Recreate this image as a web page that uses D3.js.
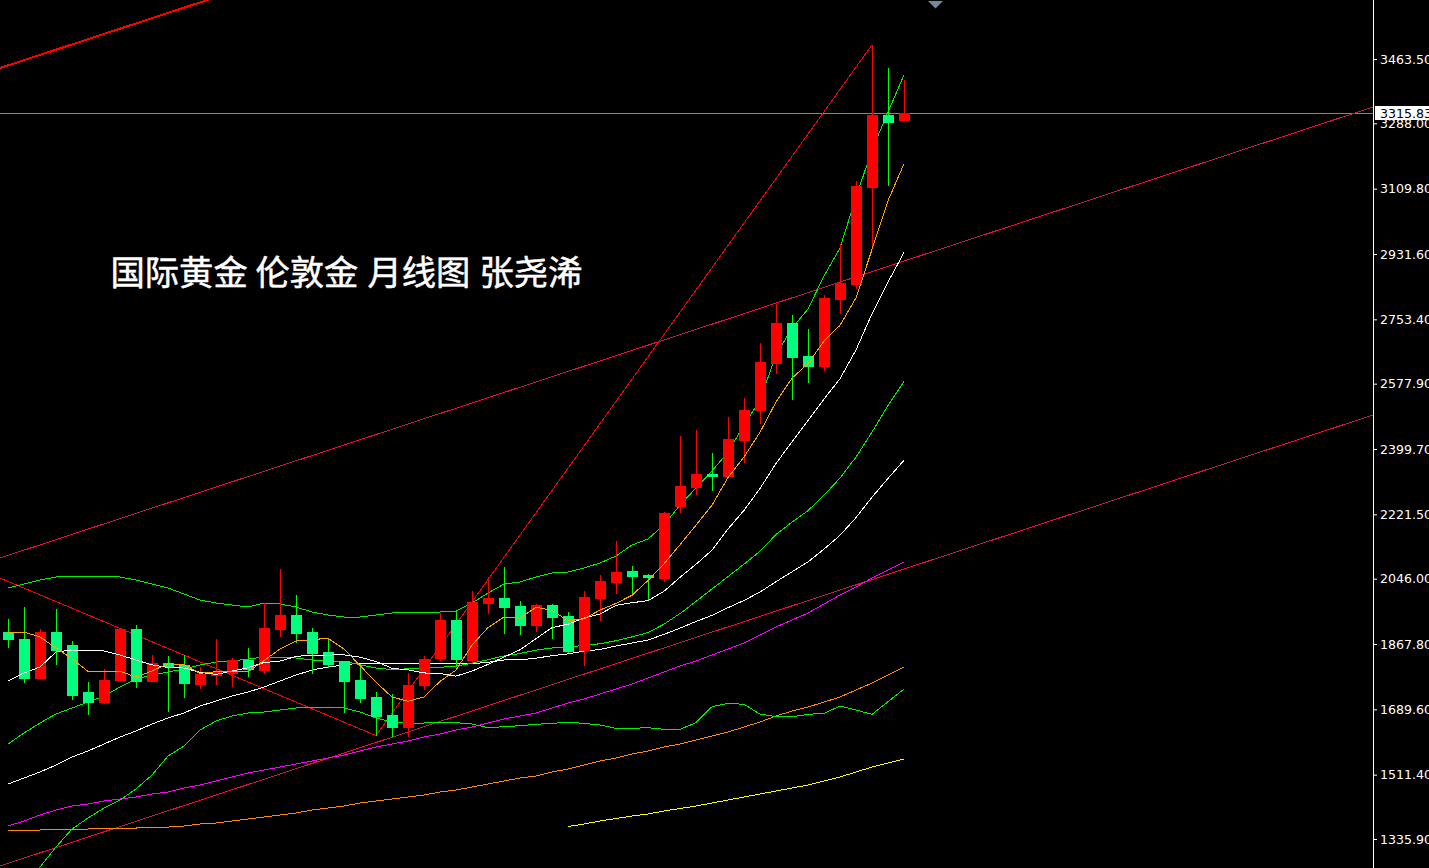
<!DOCTYPE html>
<html><head><meta charset="utf-8">
<script src="https://cdn.jsdelivr.net/npm/d3@7"></script>
<style>html,body{margin:0;padding:0;background:#000;overflow:hidden}svg{display:block}</style>
</head><body><svg id="chart" width="1429" height="868"></svg>
<script>
// ---------- DATA (monthly candles) ----------
const opens =[1900,1881,1774,1901,1865,1736,1710,1769,1908,1768,1815,1810,1760,1783,1788,1824,1798,1909,1947,1901,1846,1821,1770,1723,1674,1641,1756,1830,1933,1824,1979,1994,1971,1920,1974,1944,1851,1994,2038,2067,2057,2049,2245,2295,2331,2327,2424,2506,2635,2744,2653,2627,2809,2850,3115,3311,3297];
const highs =[1936,1968,1909,1962,1876,1764,1800,1910,1920,1838,1834,1838,1805,1881,1830,1857,1979,2072,2002,1911,1882,1821,1808,1738,1731,1788,1835,1952,1961,2012,2051,2079,1985,1976,1976,1955,2012,2056,2148,2080,2058,2229,2436,2452,2390,2488,2540,2689,2795,2765,2727,2819,2959,3131,3502,3439,3406];
const lows  =[1860,1765,1774,1812,1719,1678,1708,1768,1751,1766,1686,1724,1749,1760,1753,1780,1790,1890,1874,1790,1804,1683,1710,1620,1618,1618,1745,1824,1808,1820,1952,1897,1894,1903,1885,1847,1810,1933,2006,2002,1988,2040,2229,2277,2288,2327,2365,2471,2607,2536,2583,2615,2772,2838,2956,3121,3294];
const closes=[1881,1774,1901,1852,1730,1710,1770,1909,1768,1815,1808,1761,1787,1791,1824,1799,1911,1947,1899,1844,1814,1768,1721,1672,1641,1756,1827,1933,1826,1983,1994,1970,1920,1974,1942,1850,1997,2040,2064,2054,2050,2226,2299,2332,2326,2427,2506,2637,2744,2650,2627,2812,2852,3118,3311,3293,3315.83];

// moving averages / bands (value per candle)
const ma5 =[1897.8,1900.5,1886.9,1856.9,1827.5,1793.2,1792.4,1793.9,1777.2,1794.3,1813.9,1812.1,1787.7,1792.3,1794.1,1792.2,1822.4,1854.4,1876.0,1880.0,1883.0,1854.3,1809.1,1763.8,1723.2,1711.6,1723.4,1765.8,1796.5,1865.0,1912.6,1941.2,1938.4,1968.0,1959.9,1931.0,1936.5,1960.5,1978.5,2000.8,2040.9,2086.7,2138.5,2192.0,2246.4,2321.8,2377.9,2445.5,2528.0,2592.8,2632.8,2694.1,2737.0,2811.8,2944.0,3077.1,3177.7];
const ma10=[1766.8,1788.7,1805.0,1845.9,1851.4,1851.4,1848.7,1837.8,1824.1,1810.9,1803.6,1802.2,1790.8,1784.7,1794.2,1803.1,1817.2,1821.1,1834.1,1837.0,1837.6,1838.3,1831.8,1819.9,1801.6,1797.3,1788.8,1787.5,1780.2,1794.1,1812.1,1832.3,1852.1,1882.3,1912.5,1921.8,1938.8,1949.5,1973.3,1980.4,1986.0,2011.6,2049.5,2085.3,2123.6,2181.4,2232.3,2292.0,2360.0,2419.6,2477.3,2536.0,2591.3,2669.9,2768.4,2854.9,2935.9];
const bbUpper=[2020.5,2031.4,2042.3,2050.6,2050.6,2050.6,2050.6,2050.6,2042.3,2031.4,2020.5,2004.1,1987.8,1979.6,1974.1,1968.7,1979.6,1976.9,1968.7,1955.1,1946.9,1941.4,1941.4,1946.9,1952.4,1952.4,1952.4,1955.1,1957.8,1979.6,2006.9,2031.4,2036.9,2050.6,2061.5,2064.2,2075.1,2088.8,2107.9,2137.9,2154.2,2192.4,2246.9,2293.3,2339.6,2391.4,2465.1,2533.3,2656.0,2729.7,2781.5,2871.5,2948.0,3087.0,3215.2,3318.9,3419.8];
const bbMid=[1595.0,1625.0,1652.3,1676.9,1693.2,1709.6,1726.0,1750.5,1772.3,1783.3,1791.4,1799.6,1810.5,1818.7,1821.4,1826.9,1832.3,1832.3,1829.6,1824.0,1820.6,1820.3,1811.3,1802.3,1797.9,1800.2,1803.0,1804.3,1807.2,1815.6,1824.9,1835.3,1841.9,1851.1,1857.0,1859.6,1863.8,1868.5,1876.7,1887.2,1899.0,1921.9,1950.8,1983.8,2018.0,2051.6,2085.6,2120.7,2166.6,2200.0,2231.6,2273.8,2320.4,2377.6,2446.0,2518.1,2584.1];
const bbLower=[1174.9,1221.3,1259.4,1314.0,1363.1,1393.1,1420.4,1442.2,1472.2,1510.4,1562.3,1589.5,1633.2,1657.7,1671.4,1679.6,1682.3,1687.7,1693.2,1695.9,1695.9,1693.2,1682.3,1665.9,1655.0,1652.3,1652.3,1653.1,1653.1,1649.5,1639.5,1642.2,1644.9,1648.7,1651.4,1654.2,1651.4,1646.8,1637.8,1637.8,1639.5,1635.1,1635.1,1653.1,1696.7,1705.9,1703.2,1676.7,1669.4,1669.4,1675.9,1678.7,1698.5,1687.7,1675.9,1710.4,1745.0];
const ma30=[1485.9,1502.2,1518.6,1537.7,1559.5,1575.9,1595.0,1614.1,1630.4,1649.5,1665.9,1679.6,1698.6,1712.3,1725.9,1736.8,1750.5,1766.8,1783.2,1796.8,1805.0,1810.5,1815.9,1815.9,1815.9,1815.9,1815.9,1815.9,1815.9,1814.0,1817.8,1824.3,1824.9,1829.0,1836.1,1840.7,1848.3,1852.7,1862.5,1870.5,1878.6,1894.1,1911.1,1929.2,1945.9,1966.8,1986.6,2009.6,2037.8,2064.7,2091.8,2126.6,2164.3,2212.5,2268.2,2319.4,2369.0];
const maMagenta=[1371.3,1385.0,1401.3,1415.0,1425.9,1431.3,1439.5,1445.0,1450.4,1458.6,1464.1,1475.0,1483.2,1494.1,1505.0,1515.9,1524.1,1532.3,1540.4,1548.6,1556.8,1565.0,1575.9,1586.8,1595.0,1603.2,1614.1,1622.3,1633.2,1641.4,1652.3,1663.2,1671.4,1679.6,1693.2,1706.8,1717.7,1731.4,1745.0,1758.7,1775.0,1791.4,1807.8,1821.4,1837.8,1854.1,1870.5,1892.3,1914.1,1933.2,1952.3,1976.9,2001.4,2023.2,2047.8,2069.6,2091.4];
const maOrange=[1360.4,1360.4,1360.4,1363.1,1363.1,1363.1,1365.8,1365.8,1365.8,1368.5,1368.5,1371.3,1376.8,1379.5,1385.0,1390.4,1395.9,1401.3,1406.8,1415.0,1420.4,1425.9,1434.1,1439.5,1445.0,1450.4,1455.9,1464.1,1469.5,1477.7,1485.9,1494.1,1502.2,1507.7,1518.6,1526.8,1537.7,1548.6,1556.8,1567.7,1575.9,1586.8,1595.0,1605.9,1616.8,1627.7,1641.4,1655.0,1671.4,1685.0,1695.9,1709.5,1723.2,1742.3,1761.4,1783.2,1805.0];
const maYellow=[null,null,null,null,null,null,null,null,null,null,null,null,null,null,null,null,null,null,null,null,null,null,null,null,null,null,null,null,null,null,null,null,null,null,null,1370.0,1376.8,1385.0,1391.8,1398.6,1404.1,1412.2,1419.1,1425.9,1434.1,1442.2,1450.4,1458.6,1466.8,1475.0,1483.2,1494.1,1505.0,1518.6,1532.3,1543.2,1554.1];

// zigzag pivots [candle index, price]
const zigzag=[[-2,2075],[23,1618],[54,3502]];
// channel trendlines [candle index, price] pairs
const channelTop   =[[-0.5,3438.9],[85.3125,4667.2]];
const channelMid   =[[-0.5,2102.3],[85.3125,3332.5]];
const channelBottom=[[-0.5,1262.3],[85.3125,2492.4]];

const yTicks=[3463.5,3288.0,3109.8,2931.6,2753.4,2577.9,2399.7,2221.5,2046.0,1867.8,1689.6,1511.4,1335.9];
const currentPrice=3315.83;
const titleWords=["国际黄金","伦敦金","月线图","张尧浠"];

// ---------- DRAW ----------
const W=1429,H=868,plotR=1373;
const svg=d3.select("#chart");
svg.append("rect").attr("width",W).attr("height",H).attr("fill","#000");

const x=d3.scaleLinear().domain([0,56]).range([8,904]);
const y=d3.scaleLinear().domain([1335.9,3463.5]).range([839,59]);

svg.append("defs").append("clipPath").attr("id","plot")
  .append("rect").attr("x",0).attr("y",0).attr("width",plotR).attr("height",H);
const g=svg.append("g").attr("clip-path","url(#plot)");

// title
const titleX=[110.5,255.5,367.5,479.5];
titleWords.forEach((w,k)=>{
  g.append("text").attr("x",titleX[k]).attr("y",284.5)
   .attr("font-family","'Noto Sans CJK SC','Noto Sans',sans-serif")
   .attr("font-size",34.3).attr("fill","#fff")
   .attr("stroke","#fff").attr("stroke-width",0.5).text(w);
});

// price line
g.append("line").attr("x1",0).attr("x2",plotR)
 .attr("y1",Math.round(y(currentPrice))+0.5).attr("y2",Math.round(y(currentPrice))+0.5)
 .attr("stroke","#778899").attr("stroke-width",1);

const line=d3.line().defined(v=>v!=null).x((v,i)=>x(i)).y(v=>y(v));
const pairLine=d3.line().x(d=>x(d[0])).y(d=>y(d[1]));

function draw(data,color,w){
  g.append("path").attr("d",line(data)).attr("fill","none")
   .attr("stroke",color).attr("stroke-width",w||1).attr("shape-rendering","crispEdges");
}
function drawPair(data,color,w){
  g.append("path").attr("d",pairLine(data)).attr("fill","none")
   .attr("stroke",color).attr("stroke-width",w||1).attr("shape-rendering","crispEdges");
}

// trendlines & zigzag
drawPair(channelTop,"#ff0000",2);
drawPair(channelMid,"#dc143c",1);
drawPair(channelBottom,"#dc143c",1);
drawPair(zigzag,"#ff0000",1);

// long MAs
draw(maYellow,"#ffff00");
draw(maOrange,"#ff8c00");
draw(maMagenta,"#ff00ff");
draw(ma30,"#ffffff");
draw(bbLower,"#00f000");
draw(bbMid,"#00f000");
draw(bbUpper,"#00f000");

// candles
const idx=d3.range(opens.length);
const cg=g.append("g").attr("shape-rendering","crispEdges");
idx.forEach(i=>{
  const cx=Math.round(x(i));
  const up=closes[i]>=opens[i];
  const wickCol=up?"#ff0000":"#00ff00";
  const bodyCol=up?"#ff0000":"#00ff7f";
  const yh=Math.round(y(highs[i])), yl=Math.round(y(lows[i]));
  cg.append("rect").attr("x",cx).attr("y",yh).attr("width",1).attr("height",Math.max(1,yl-yh+1)).attr("fill",wickCol);
  const yt=Math.round(y(Math.max(opens[i],closes[i]))), yb=Math.round(y(Math.min(opens[i],closes[i])));
  cg.append("rect").attr("x",cx-5).attr("y",yt).attr("width",11).attr("height",Math.max(2,yb-yt+1)).attr("fill",bodyCol);
});

// short MAs on top
draw(ma10,"#ffffff");
draw(ma5,"#ffa500");

// axis
svg.append("line").attr("x1",plotR+0.5).attr("x2",plotR+0.5).attr("y1",0).attr("y2",H)
   .attr("stroke","#fff").attr("stroke-width",1);
const ax=svg.append("g").attr("transform",`translate(${plotR},0)`)
  .call(d3.axisRight(y).tickValues(yTicks).tickSize(4).tickSizeOuter(0).tickPadding(3).tickFormat(d3.format(".2f")));
ax.select(".domain").remove();
ax.attr("color","#ffffff");
ax.selectAll("text").attr("font-family","'DejaVu Sans',sans-serif").attr("font-size",12.6).attr("fill","#fff");

// current price tag (covers the top of the 3288.00 label, as in the original)
const cy=y(currentPrice);
svg.append("rect").attr("x",plotR+2).attr("y",Math.round(cy)-7).attr("width",W-plotR-2).attr("height",14).attr("fill","#fff");
svg.append("text").attr("x",plotR+7).attr("y",cy).attr("dy","0.36em")
   .attr("font-family","'DejaVu Sans',sans-serif").attr("font-size",12.6).attr("fill","#000")
   .text(d3.format(".2f")(currentPrice));

// chart shift marker
svg.append("path").attr("d","M928,1 L943,1 L935.5,8.5 Z").attr("fill","#778899");
</script></body></html>
